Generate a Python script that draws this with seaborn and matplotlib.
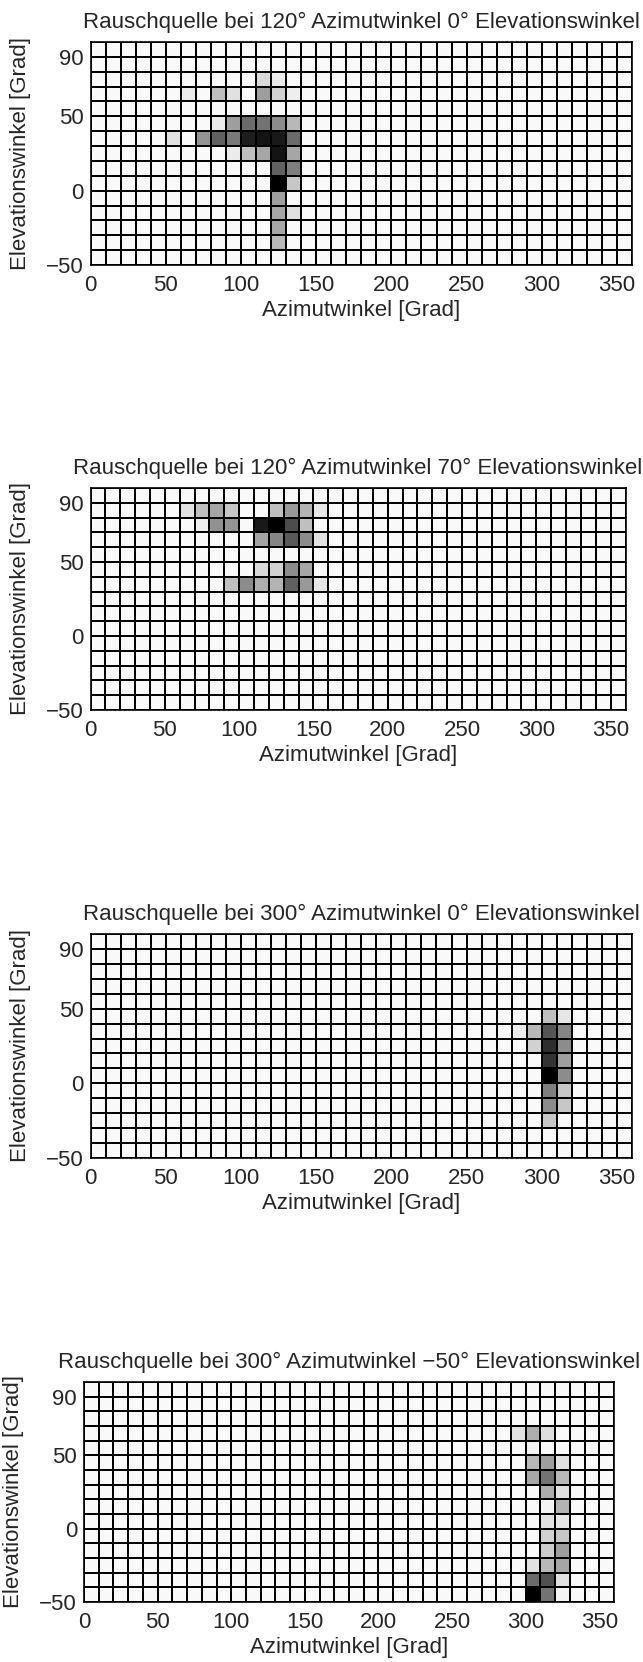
import matplotlib
matplotlib.use('Agg')
import matplotlib.pyplot as plt
import seaborn as sns
import pandas as pd
import numpy as np

#----------------------------------------------------
f_out='out.png'
az_grid=list(range(0, 360, 10))        # Azimut (Zellen-Unterkante)
el_grid=list(range(90, -60, -10))      # Elevation, oben -> unten
bg_val=0.025                           # Grundpegel (fast weiss)
x_ticks=[0, 50, 100, 150, 200, 250, 300, 350]
y_ticks=[-50, 0, 50, 90]

titles=['Rauschquelle bei 120° Azimutwinkel 0° Elevationswinkel',
        'Rauschquelle bei 120° Azimutwinkel 70° Elevationswinkel',
        'Rauschquelle bei 300° Azimutwinkel 0° Elevationswinkel',
        'Rauschquelle bei 300° Azimutwinkel −50° Elevationswinkel']

# Quelle 120° / 0°
p1_az=[110, 120,  60, 80, 90, 110, 120, 130,  80, 90, 100, 110, 120, 130,
       50, 70, 80, 90, 100, 110, 120, 130,  90, 100, 110, 120, 130,
       120, 130,  120, 130,  120,  120, 130,  120,  120]
p1_el=[70, 70,  60, 60, 60, 60, 60, 60,  40, 40, 40, 40, 40, 40,
       30, 30, 30, 30, 30, 30, 30, 30,  20, 20, 20, 20, 20,
       10, 10,  0, 0,  -10,  -20, -20,  -30,  -40]
p1_val=[0.15, 0.08,  0.08, 0.25, 0.12, 0.38, 0.18, 0.07,  0.08, 0.38, 0.58, 0.55, 0.45, 0.28,
        0.12, 0.42, 0.62, 0.52, 0.88, 0.92, 0.90, 0.58,  0.08, 0.25, 0.35, 0.92, 0.35,
        0.62, 0.50,  1.00, 0.22,  0.38,  0.35, 0.12,  0.35,  0.28]

# Quelle 120° / 70°
p2_az=[60, 70, 80, 90, 120, 130, 140, 150,  70, 80, 90, 110, 120, 130, 140,
       110, 120, 130, 140, 150,  110, 120, 130, 140,  90, 100, 110, 120, 130, 140, 150]
p2_el=[80, 80, 80, 80, 80, 80, 80, 80,  70, 70, 70, 70, 70, 70, 70,
       60, 60, 60, 60, 60,  40, 40, 40, 40,  30, 30, 30, 30, 30, 30, 30]
p2_val=[0.12, 0.25, 0.35, 0.22, 0.25, 0.40, 0.30, 0.10,  0.07, 0.43, 0.42, 0.90, 1.00, 0.70, 0.25,
        0.36, 0.48, 0.65, 0.45, 0.12,  0.15, 0.18, 0.45, 0.35,  0.25, 0.45, 0.32, 0.30, 0.62, 0.40, 0.10]

# Quelle 300° / 0°
p3_az=[300, 310,  280, 290, 300, 310,  290, 300, 310,  300, 310,  300, 310,
       300, 310,  300, 310,  300]
p3_el=[40, 40,  30, 30, 30, 30,  20, 20, 20,  10, 10,  0, 0,
       -10, -10,  -20, -20,  -30]
p3_val=[0.25, 0.10,  0.08, 0.28, 0.67, 0.48,  0.18, 0.82, 0.45,  0.80, 0.38,  1.00, 0.45,
        0.50, 0.22,  0.45, 0.22,  0.22]

# Quelle 300° / -50°
p4_az=[290, 300, 310,  300,  300, 310, 320,  300, 310, 320,  310, 320,  310, 320,
       310, 320,  310, 320,  310, 320,  300, 310, 320,  300, 310, 320,  300, 310, 320]
p4_el=[60, 60, 60,  50,  40, 40, 40,  30, 30, 30,  20, 20,  10, 10,
       0, 0,  -10, -10,  -20, -20,  -30, -30, -30,  -40, -40, -40,  -50, -50, -50]
p4_val=[0.12, 0.32, 0.13,  0.05,  0.28, 0.38, 0.12,  0.35, 0.55, 0.28,  0.32, 0.12,  0.05, 0.30,
        0.12, 0.10,  0.18, 0.22,  0.20, 0.38,  0.12, 0.28, 0.35,  0.58, 0.68, 0.12,  1.00, 0.55, 0.05]

panels=[(p1_az, p1_el, p1_val), (p2_az, p2_el, p2_val),
        (p3_az, p3_el, p3_val), (p4_az, p4_el, p4_val)]

# Achsen in Pixeln: links, rechts, oben, unten
boxes=[(90.7, 632, 42, 265), (90.5, 625.5, 488, 710),
       (90.5, 632, 934, 1158), (84, 614, 1382, 1602)]

#----------------------------------------------------
def make_df(az, el, val):
	df=pd.DataFrame(bg_val, index=el_grid, columns=az_grid)
	for a, e, v in zip(az, el, val):
		df.loc[e, a]=v
	return df

sns.set_style('white')
plt.rcParams['font.family']=['Liberation Sans', 'DejaVu Sans']
W, H=643, 1662
fig=plt.figure(figsize=(W/100, H/100), dpi=100)

for (az, el, val), title, (l, r, t, b) in zip(panels, titles, boxes):
	ax=fig.add_axes([l/W, 1-b/H, (r-l)/W, (b-t)/H])
	df=make_df(az, el, val)
	sns.heatmap(df, ax=ax, cmap='gray_r', vmin=0, vmax=1, cbar=False,
		linewidths=1.1, linecolor='black', xticklabels=False, yticklabels=False)
	for s in ax.spines.values():
		s.set_visible(True)
		s.set_color('black')
		s.set_linewidth(1.2)
	top=el_grid[0]+10
	ax.set_xticks([(x-az_grid[0])/10 for x in x_ticks])
	ax.set_xticklabels([str(x) for x in x_ticks])
	ax.set_yticks([(top-y)/10 for y in y_ticks])
	ax.set_yticklabels([str(y).replace('-', '−') for y in y_ticks], rotation=0)
	ax.tick_params(axis='x', length=0, pad=7, labelsize=16)
	ax.tick_params(axis='y', length=0, pad=5, labelsize=16)
	ax.set_xlabel('Azimutwinkel [Grad]', fontsize=16, labelpad=3)
	ax.set_ylabel('Elevationswinkel [Grad]', fontsize=16, labelpad=11)
	ax.set_title(title, fontsize=16, pad=10)

fig.savefig(f_out, dpi=100)
plt.close()
